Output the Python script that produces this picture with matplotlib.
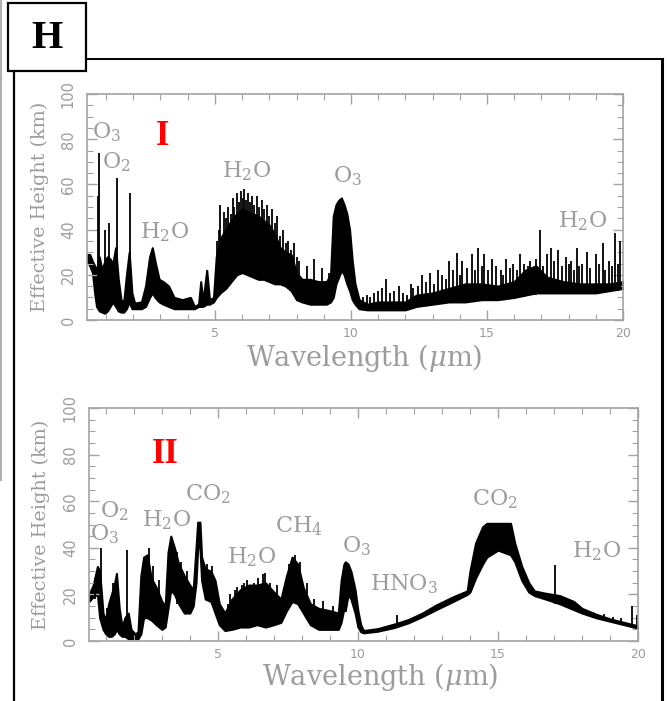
import matplotlib
matplotlib.use("Agg")
import matplotlib.pyplot as plt
from matplotlib.patches import Rectangle
from matplotlib.lines import Line2D
from matplotlib.ticker import MultipleLocator

plt.rcParams['font.family'] = ['DejaVu Serif']
plt.rcParams['mathtext.fontset'] = 'dejavuserif'

# ---- panel I : dense core of the spectrum (lower / upper edge), km ----
wl_1 = [0.30, 0.40, 0.50, 0.58, 0.65, 0.75, 0.85, 0.95, 1.05, 1.15, 1.25, 1.35, 1.45, 1.55,
        1.65, 1.75, 1.85, 1.95, 2.05, 2.30, 2.45, 2.60, 2.70, 2.80, 2.95, 3.10, 3.30, 3.50,
        3.80, 4.10, 4.25, 4.40, 4.48, 4.56, 4.70, 4.80, 4.95, 5.05, 5.20, 5.40, 5.60, 5.80,
        6.00, 6.20, 6.40, 6.60, 6.80, 7.00, 7.20, 7.40, 7.60, 7.80, 8.00, 8.20, 8.50, 8.80,
        9.10, 9.25, 9.35, 9.45, 9.55, 9.65, 9.75, 9.85, 9.95, 10.05, 10.15, 10.30, 10.60,
        11.00, 11.50, 12.00, 12.40, 13.00, 13.60, 14.20, 14.80, 15.40, 16.00, 16.40, 16.80,
        17.20, 17.80, 18.40, 19.00, 19.50, 20.00]
lo_1 = [26, 24, 21, 12, 6, 4, 3.5, 3, 4, 6, 8, 6, 4, 3.5,
        3.5, 5, 8, 5, 5, 5, 6, 10, 12, 10, 8, 7, 6, 5,
        5, 5, 5, 6, 6, 6, 7, 7, 8, 10, 12, 14, 17, 20,
        21, 20, 19, 18, 18, 17, 16, 16, 15, 13, 9, 8, 7, 7,
        7, 8, 10, 16, 19, 22, 20, 16, 13, 9, 7, 5, 4.5,
        4.5, 4.5, 4.5, 6, 7, 8, 8, 9, 9, 10, 11, 12,
        12, 12, 12, 12, 13, 14]
hi_1 = [29, 29, 26, 24, 22, 28, 22, 26, 28, 27, 25, 32, 18, 9,
        8, 20, 30, 12, 7.5, 8, 15, 28, 32, 26, 18, 17, 15, 10,
        9, 10, 6, 7, 17, 8, 22, 9, 10, 28, 36, 40, 44, 47,
        49, 48, 47, 46, 44, 42, 38, 32, 30, 29, 21, 18, 18, 17,
        17, 20, 46, 51, 53, 54, 51, 47, 40, 26, 16, 9, 7,
        8, 8, 8, 11, 12, 14, 16, 16, 15, 17, 22, 24,
        19, 17, 16, 16, 16, 17]
# narrow lines standing out of the core
line_wl_1 = [0.69, 0.735, 0.95, 1.10, 1.39, 1.88,
             5.08, 5.15, 5.20, 5.35, 5.42, 5.50, 5.58, 5.65, 5.72, 5.80, 5.88, 5.95, 6.02,
             6.08, 6.15, 6.22, 6.30, 6.38, 6.45, 6.55, 6.62, 6.72, 6.80, 6.90, 7.00, 7.10,
             7.20, 7.30, 7.40, 7.50, 7.60, 7.70, 7.80, 7.90, 8.00, 8.10, 8.40, 8.65, 8.95, 9.20,
             10.7, 11.0, 11.3, 11.6, 11.9, 12.3, 12.6, 12.9, 13.2, 13.6, 13.9, 14.1, 14.45,
             14.68, 14.9, 15.2, 15.5, 15.7, 15.95, 16.2, 16.5, 16.95, 17.2, 17.37, 17.6, 17.9,
             18.1, 18.3, 18.5, 18.66, 19.0, 19.27, 19.5, 19.7, 19.9,
             10.45, 10.6, 10.85, 11.15, 11.45, 11.75, 12.05, 12.2, 12.45, 12.75, 13.05, 13.35,
             13.5, 13.75, 14.0, 14.25, 14.55, 14.8, 15.05, 15.35, 15.6, 15.85, 16.1, 16.35,
             16.6, 16.8, 17.05, 17.45, 17.75, 18.0, 18.2, 18.4, 18.8, 19.1, 19.35, 19.6, 19.8]
line_lo_1 = [15, 10, 5, 8, 10, 10,
             25, 30, 30, 30, 30, 30, 30, 35, 35, 35, 35, 35, 35,
             35, 35, 35, 35, 35, 35, 35, 35, 35, 35, 35, 30, 30,
             30, 30, 25, 25, 25, 25, 25, 25, 15, 15, 12, 12, 12, 12,
             6, 6, 6, 6, 6, 8, 8, 8, 10, 10, 10, 10, 10,
             10, 10, 10, 10, 10, 10, 12, 12, 14, 14, 14, 14, 14,
             14, 14, 14, 14, 14, 14, 14, 14, 14,
             5, 5, 5, 5, 5, 5, 5, 6, 6, 7, 7, 8,
             8, 8, 8, 8, 9, 9, 9, 9, 9, 10, 10, 10,
             11, 11, 12, 12, 12, 12, 12, 12, 12, 12, 12, 13, 13]
line_hi_1 = [55, 74, 40, 43, 63, 56,
             35, 40, 51, 48, 45, 50, 47, 54, 50, 56, 52, 57, 54,
             58, 53, 56, 52, 55, 51, 55, 50, 53, 49, 51, 46, 49,
             43, 46, 37, 40, 34, 35, 31, 34, 28, 26, 24, 27, 23, 21,
             10, 13, 18, 13, 12, 14, 20, 21, 22, 26, 29.5, 26, 29,
             32, 29, 27, 22, 27, 25, 29, 24, 40, 29, 32, 31, 28,
             26, 32, 25, 30, 29, 34, 26, 38.6, 35,
             10, 11, 12, 14, 12, 15, 11, 16, 15, 17, 16, 20,
             18, 22, 20, 23, 22, 24, 22, 24, 20, 23, 22, 25,
             26, 27, 24, 26, 24, 25, 22, 24, 23, 25, 22, 24, 25]

# ---- panel II ----
wl_2 = [0.40, 0.55, 0.70, 0.78, 0.90, 1.00, 1.10, 1.20, 1.30, 1.38, 1.48, 1.58, 1.68, 1.80,
        1.90, 2.05, 2.15, 2.25, 2.35, 2.48, 2.62, 2.80, 3.00, 3.12, 3.22, 3.32, 3.45, 3.60,
        3.80, 4.00, 4.12, 4.22, 4.28, 4.36, 4.42, 4.55, 4.75, 4.90, 5.05, 5.25, 5.50, 5.80,
        6.10, 6.40, 6.70, 7.00, 7.25, 7.45, 7.65, 7.85, 8.05, 8.30, 8.60, 9.00, 9.30, 9.40,
        9.50, 9.55, 9.65, 9.75, 9.90, 10.00, 10.10, 10.20, 10.70, 11.30, 11.80, 12.30, 12.80,
        13.40, 13.90, 14.00, 14.20, 14.45, 14.60, 15.00, 15.45, 15.60, 15.85, 16.10, 16.30,
        16.70, 17.20, 17.70, 18.00, 18.50, 19.00, 19.50, 20.00]
lo_2 = [17, 19, 20, 10, 5, 3, 2, 2, 3, 5, 3, 2, 2, 1,
        1, 1, 1, 3, 10, 10, 9, 7, 5, 6, 14, 22, 20, 16,
        12, 12, 15, 25, 40, 40, 26, 18, 17, 12, 7, 4.5, 5, 6,
        6, 7, 6, 7, 8, 13, 17, 16, 12, 7, 5, 5, 5, 8,
        14, 13, 20, 18, 12, 6, 4, 3.5, 4.2, 5.8, 7.8, 10.5, 13.5,
        17, 20, 21, 27, 33, 36, 39, 37, 34, 26, 21, 19.5,
        18, 16, 13.5, 12, 10, 8.5, 7, 5.5]
hi_2 = [20, 24, 32, 30, 12, 9, 16, 20, 24, 29, 14, 6, 10, 12,
        5, 3, 4, 28, 36, 37, 27, 23, 17, 15, 38, 45, 40, 33,
        28, 24, 22, 40, 51, 51, 36, 31, 30, 26, 16, 12, 18, 22,
        24, 24, 25, 21, 18, 28, 36, 33, 23, 16, 14, 13, 12, 26,
        33, 34, 33, 30, 22, 13, 7, 4.5, 5.3, 7.3, 9.2, 12, 15.5,
        19, 21.5, 30, 42, 49, 50.5, 50.5, 50.5, 42, 32, 25, 21.5,
        20.5, 19.5, 17, 14, 11.5, 9.5, 8, 6.5]
line_wl_2 = [0.82, 1.74, 5.60, 5.85, 6.05, 6.30, 6.60, 6.70, 11.40, 17.05,
             18.40, 18.80, 19.10, 19.40, 19.80, 19.95,
             0.60, 1.05, 1.25, 2.55, 2.70, 2.90, 3.55, 3.70, 3.90, 4.60, 4.80,
             5.35, 5.45, 5.70, 5.95, 6.20, 6.45, 6.85, 7.10, 7.55, 7.75, 7.95, 8.20,
             8.45, 8.75, 9.10]
line_lo_2 = [10, 5, 10, 10, 10, 10, 10, 10, 6, 16, 10, 9, 8.5, 7.5, 6.5, 6,
             18, 3, 3, 10, 10, 8, 16, 15, 12, 18, 17,
             6, 6, 8, 8, 8, 8, 8, 8, 15, 17, 15, 10,
             7, 6, 6]
line_hi_2 = [40, 39, 22, 24, 26, 25, 28.6, 29, 11, 32.6, 12.5, 11.5, 10.5, 10, 15, 11,
             27, 14, 25, 40, 32, 26, 38, 34, 30, 33, 32,
             16, 20, 23, 25, 24, 27, 25, 24, 33, 37, 34, 25,
             18, 17, 15]

# molecule labels: text, wavelength, height (baseline, left edge)
notes_1 = [('O$_3$', 0.48, 80.5), ('O$_2$', 0.85, 67), ('H$_2$O', 2.24, 36),
           ('H$_2$O', 5.26, 63), ('O$_3$', 9.34, 61), ('H$_2$O', 17.6, 41)]
notes_2 = [('O$_3$', 0.43, 43), ('O$_2$', 0.79, 53), ('H$_2$O', 2.29, 49),
           ('CO$_2$', 3.82, 60.5), ('H$_2$O', 5.32, 33.5), ('CH$_4$', 7.04, 46.4),
           ('O$_3$', 9.43, 38.2), ('HNO$_3$', 10.43, 21.9), ('CO$_2$', 14.07, 58.4),
           ('H$_2$O', 17.64, 36)]

GREY = '#a3a3a3'
TXT = '#9c9c9c'

fig = plt.figure(figsize=(6.7, 7.01), dpi=100)

# outer frame and panel letter
fig.add_artist(Line2D([0.0022, 0.0022], [1.0, 0.315], color='#b0b0b0', lw=1.5))
fig.add_artist(Line2D([0.0209, 0.0209], [0.0, 0.9158], color='black', lw=1.6))
fig.add_artist(Line2D([0.0209, 0.988], [0.9158, 0.9158], color='black', lw=1.4))
fig.add_artist(Line2D([0.988, 0.988], [0.9158, 0.0], color='black', lw=2.2))
fig.add_artist(Rectangle((8 / 670, 1 - 71 / 701), 78 / 670, 68 / 701, transform=fig.transFigure,
                         facecolor='white', edgecolor='black', lw=1.6, zorder=5))
fig.text(47 / 670, 1 - 38 / 701, 'H', fontsize=29, fontweight='bold', family='Liberation Serif',
         ha='center', va='center', zorder=6)


def panel(rect, x0, wl, lo, hi, lwl, llo, lhi, notes, roman, rpos, xlab_x, xlab_y, ylab_x):
    ax = fig.add_axes(rect)
    ax.fill_between(wl, lo, hi, color='black', lw=1.5)
    ax.vlines(lwl, llo, lhi, color='black', lw=1.3)
    ax.set_xlim(x0, 20)
    ax.set_ylim(0, 100)
    ax.xaxis.set_major_locator(MultipleLocator(5))
    ax.xaxis.set_minor_locator(MultipleLocator(1))
    ax.yaxis.set_major_locator(MultipleLocator(20))
    ax.yaxis.set_minor_locator(MultipleLocator(5))
    ax.tick_params(which='both', direction='in', top=True, right=True, color=GREY, labelcolor=TXT)
    ax.tick_params(which='major', length=7, width=1.0, pad=8)
    ax.tick_params(which='minor', length=4, width=0.8)
    ax.tick_params(axis='x', labelsize=9, pad=5)
    ax.tick_params(axis='y', labelsize=10.5, labelrotation=90)
    for lab in ax.get_xticklabels() + ax.get_yticklabels():
        lab.set_family('DejaVu Sans')
    for lab in ax.get_yticklabels():
        lab.set_va('center')
    for s in ax.spines.values():
        s.set_color(GREY)
        s.set_linewidth(1.2)
    ax.set_xlabel('Wavelength ($\\mu$m)', fontsize=19.5, color=TXT)
    ax.xaxis.set_label_coords(xlab_x, xlab_y)
    ax.xaxis.label.set_va('center')
    ax.set_ylabel('Effective Height (km)', fontsize=13.8, color=TXT)
    ax.yaxis.set_label_coords(ylab_x, 0.5)
    ax.yaxis.label.set_va('center')
    for t, x, y in notes:
        ax.text(x, y, t, fontsize=16, color=TXT, ha='left', va='baseline')
    ax.text(rpos[0], rpos[1], roman, fontsize=25, color='#ff0000', fontweight='bold',
            family='Liberation Serif', ha='center', va='center')
    return ax


panel([87 / 670, 1 - 320 / 701, 536 / 670, 226 / 701], 0.3, wl_1, lo_1, hi_1,
      line_wl_1, line_lo_1, line_hi_1, notes_1, 'I', (3.09, 81), 0.517, -0.168, -0.088)
panel([89 / 670, 1 - 641 / 701, 549 / 670, 233 / 701], 0.4, wl_2, lo_2, hi_2,
      line_wl_2, line_lo_2, line_hi_2, notes_2, 'II', (3.14, 80), 0.53, -0.155, -0.087)

fig.savefig('out.png', dpi=100)
